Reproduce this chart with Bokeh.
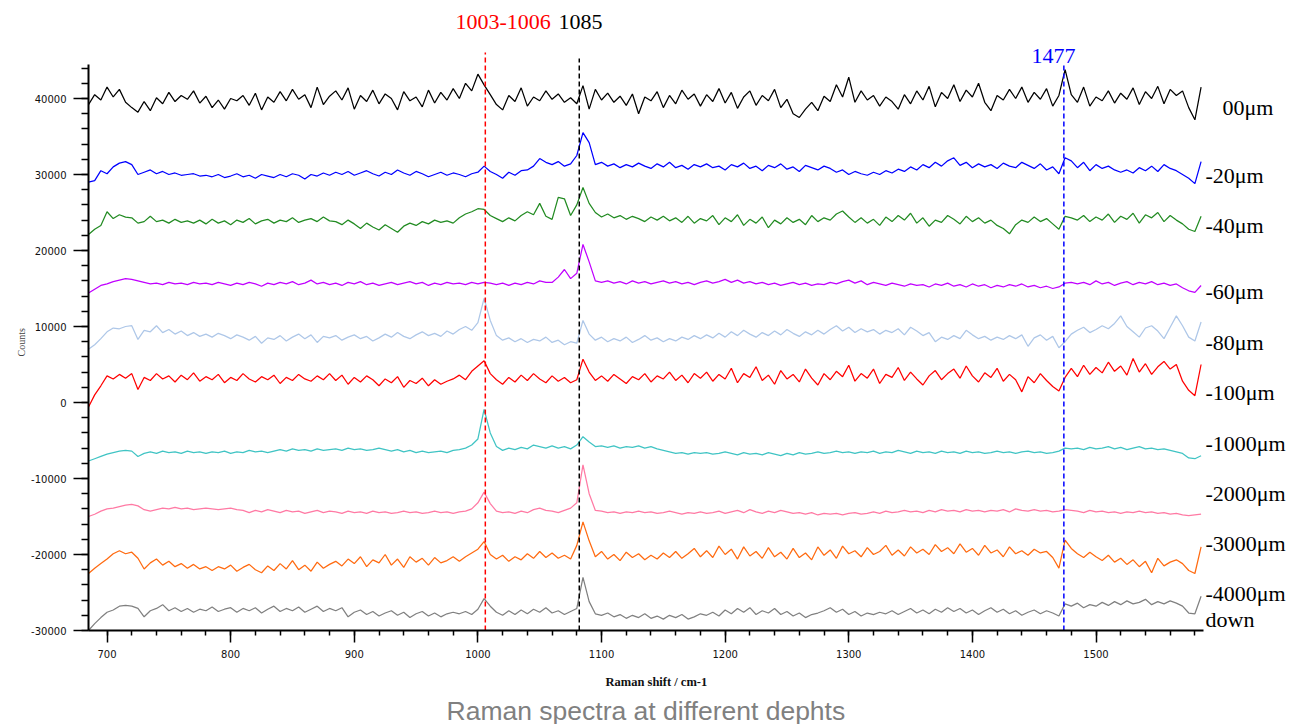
from bokeh.plotting import figure
from bokeh.models import Label, Range1d, SingleIntervalTicker, NumeralTickFormatter, Title
from bokeh.embed import file_html
from bokeh.resources import INLINE

# ---------------- data (in hundreds of counts) ----------------
shift = list(range(685, 1590, 5))  # Raman shift grid, cm-1
UNIT = 100

s00 = [392, 405, 398, 415, 402, 412, 395, 388, 382, 396, 384, 401, 393, 408, 396, 404, 399, 410, 394, 403,
       388, 398, 386, 400, 397, 404, 391, 407, 385, 402, 395, 409, 397, 412, 399, 405, 388, 415, 392, 403,
       410, 398, 414, 386, 404, 396, 411, 393, 406, 400, 385, 409, 397, 402, 389, 411, 394, 408, 398, 413,
       400, 420, 410, 432, 418, 405, 392, 385, 404, 396, 414, 390, 402, 397, 410, 399, 406, 395, 401, 393,
       417, 386, 412, 398, 407, 395, 403, 391, 406, 380, 402, 397, 409, 388, 404, 393, 411, 399, 406, 390,
       405, 396, 413, 394, 408, 387, 402, 410, 391, 404, 397, 412, 388, 399, 380, 375, 386, 395, 384, 403,
       396, 418, 402, 428, 395, 410, 398, 404, 390, 402, 396, 386, 405, 393, 410, 398, 416, 389, 408, 400,
       418, 396, 411, 402, 420, 395, 384, 404, 398, 412, 400, 415, 395, 408, 399, 413, 390, 404, 438, 405,
       395, 415, 390, 402, 397, 410, 394, 407, 399, 414, 392, 409, 400, 416, 393, 412, 404, 410, 388, 372,
       415]
s20 = [290, 292, 305, 301, 310, 315, 317, 313, 300, 303, 306, 301, 304, 300, 302, 299, 300, 301, 298, 299,
       297, 300, 296, 298, 301, 297, 299, 295, 300, 298, 296, 300, 297, 301, 299, 294, 300, 298, 302, 299,
       303, 300, 304, 299, 302, 305, 301, 298, 303, 300, 306, 302, 299, 304, 301, 297, 300, 303, 299, 302,
       300, 297, 301, 303, 311, 304, 300, 295, 303, 299, 305, 306, 311, 321, 316, 313, 317, 311, 314, 325,
       355, 342, 313, 316, 311, 314, 309, 313, 310, 315, 311, 308, 314, 310, 316, 309, 312, 307, 313, 310,
       314, 309, 311, 306, 313, 310, 315, 308, 311, 305, 312, 309, 314, 307, 310, 304, 312, 309, 306, 311,
       308, 303, 306, 300, 304, 301, 299, 303, 300, 305, 302, 307, 304, 310, 306, 313, 309, 316, 311, 318,
       322, 312, 316, 309, 314, 310, 313, 308, 315, 311, 309, 316, 312, 308, 314, 306, 310, 301, 322, 318,
       309, 316, 305, 313, 308, 311, 306, 303, 306, 302, 309, 305, 311, 304, 313, 308, 305, 300, 295, 288,
       317]
s40 = [221, 228, 233, 251, 242, 247, 244, 243, 236, 238, 245, 238, 240, 236, 241, 237, 239, 236, 240, 235,
       241, 236, 239, 234, 240, 237, 242, 235, 239, 241, 236, 240, 238, 243, 237, 240, 242, 238, 244, 239,
       238, 234, 240, 235, 229, 236, 231, 227, 234, 229, 224, 232, 236, 233, 238, 235, 240, 237, 239, 236,
       243, 248, 251, 255, 254, 246, 242, 238, 243, 239, 246, 251, 247, 262, 245, 241, 270, 268, 246, 260,
       283, 262, 250, 244, 248, 243, 246, 241, 245, 242, 238, 244, 240, 245, 239, 243, 237, 245, 236, 242,
       239, 246, 234, 243, 238, 247, 233, 241, 236, 244, 230, 240, 235, 243, 237, 241, 234, 246, 238, 243,
       240, 248, 252, 244, 237, 243, 236, 241, 233, 244, 238, 246, 240, 249, 236, 243, 232, 240, 237, 246,
       241, 235, 245, 238, 243, 236, 240, 233, 229, 222, 234, 240, 237, 244, 238, 242, 235, 228, 245, 243,
       240, 246, 238, 244, 240, 248, 237, 245, 241, 249, 236, 247, 243, 250, 238, 246, 240, 235, 228, 225,
       245]
s60 = [144, 149, 154, 156, 159, 161, 163, 162, 160, 158, 156, 157, 155, 158, 156, 157, 155, 158, 156, 157,
       155, 158, 156, 154, 157, 155, 158, 156, 153, 157, 155, 158, 156, 159, 155, 157, 161, 156, 158, 155,
       157, 154, 158, 156, 159, 155, 157, 154, 156, 158, 155, 157, 159, 156, 158, 154, 157, 155, 158, 156,
       157, 155, 158, 156, 158, 157, 155, 157, 154, 157, 155, 158, 156, 160, 158, 158, 165, 175, 163, 170,
       208, 185, 160, 158, 160, 157, 159, 156, 160, 157, 159, 156, 158, 160, 157, 159, 156, 158, 155, 158,
       160, 157, 159, 162, 158, 161, 157, 159, 156, 158, 155, 157, 154, 156, 158, 155, 157, 154, 156, 155,
       158, 156, 159, 161, 157, 160, 155, 158, 156, 154, 157, 155, 153, 156, 154, 155, 152, 156, 154, 157,
       153, 155, 152, 156, 153, 155, 151, 154, 152, 155, 153, 156, 152, 154, 151, 153, 150, 152, 157, 158,
       156, 158, 155, 160, 156, 158, 154, 157, 159, 155, 158, 156, 159, 155, 157, 154, 156, 151, 147, 145,
       154]
s80 = [70, 76, 84, 93, 98, 97, 100, 101, 83, 95, 93, 101, 92, 96, 90, 94, 88, 92, 87, 90,
       86, 91, 88, 84, 89, 86, 82, 87, 78, 85, 83, 88, 81, 86, 90, 84, 89, 79, 87, 85,
       88, 82, 86, 89, 84, 87, 81, 85, 90, 86, 92, 87, 84, 89, 93, 88, 91, 87, 94, 90,
       96, 100, 95, 105, 137, 108, 88, 82, 85, 80, 84, 79, 83, 81, 86, 79, 82, 76, 80, 78,
       108, 90, 82, 86, 80, 84, 81, 86, 79, 83, 88, 82, 85, 80, 84, 81, 86, 83, 88, 84,
       89, 85, 91, 86, 93, 88, 95, 90, 86, 92, 88, 94, 89, 96, 91, 87, 93, 89, 95, 90,
       96, 101, 94, 99, 92, 97, 93, 96, 90, 95, 92, 97, 89, 99, 94, 88, 92, 80, 86, 83,
       88, 84, 95, 89, 84, 87, 82, 86, 83, 88, 84, 89, 74, 85, 89, 82, 87, 72, 80, 90,
       95, 99, 92, 96, 101, 97, 104, 114, 100, 93, 86, 98, 101, 94, 84, 99, 114, 101, 86, 81,
       106]
s100 = [-6, 10, 22, 35, 31, 37, 32, 38, 17, 33, 29, 38, 31, 35, 27, 36, 30, 39, 28, 34,
        30, 37, 26, 33, 29, 38, 31, 27, 34, 30, 36, 25, 33, 29, 37, 31, 28, 35, 30, 38,
        29, 36, 24, 33, 27, 35, 30, 22, 31, 26, 34, 20, 29, 25, 32, 22, 30, 24, 28, 31,
        36, 30, 41, 48, 55, 38, 30, 24, 33, 27, 36, 29, 38, 31, 26, 35, 28, 33, 26, 30,
        57, 40, 29, 35, 28, 37, 31, 25, 34, 30, 38, 27, 35, 31, 40, 29, 36, 26, 38, 32,
        40, 28, 37, 31, 45, 26, 38, 33, 47, 29, 36, 24, 42, 31, 37, 27, 44, 32, 23, 38,
        30, 41, 34, 49, 28, 38, 32, 44, 25, 37, 33, 46, 29, 40, 31, 23, 35, 42, 30, 38,
        44, 32, 48, 35, 27, 39, 33, 45, 28, 37, 30, 14, 34, 26, 38, 29, 21, 15, 33, 45,
        34, 49, 37, 46, 39, 53, 41, 48, 36, 58, 40, 51, 37, 47, 54, 44, 50, 28, 16, 9,
        50]
s1000 = [-77, -74, -71, -68, -66, -64, -63, -64, -71, -67, -65, -67, -64, -66, -65, -67, -64, -66, -65, -67,
         -65, -66, -64, -67, -65, -66, -63, -65, -64, -66, -64, -62, -64, -61, -63, -62, -64, -61, -63, -62,
         -61, -63, -60, -62, -61, -63, -62, -60, -62, -64, -62, -65, -63, -66, -64, -66, -65, -64, -66, -63,
         -62, -60, -56, -48, -9, -40, -58, -63, -60, -62, -59, -61, -56, -58, -60, -57, -60, -58, -61, -56,
         -45, -52, -58, -57, -59, -57, -60, -58, -59, -57, -60, -58, -61, -63, -65, -67, -66, -68, -66, -67,
         -66, -68, -67, -65, -67, -69, -66, -68, -67, -69, -66, -68, -70, -67, -69, -66, -68, -67, -65, -67,
         -66, -64, -66, -65, -67, -65, -66, -64, -67, -65, -66, -63, -65, -67, -64, -66, -65, -67, -64, -66,
         -65, -67, -64, -66, -65, -67, -66, -64, -66, -65, -67, -65, -64, -66, -65, -67, -66, -64, -60, -61,
         -60, -62, -59, -61, -60, -58, -61, -59, -62, -60, -58, -61, -60, -62, -61, -63, -65, -67, -73, -74,
         -70]
s2000 = [-150, -147, -143, -140, -139, -137, -135, -134, -136, -141, -143, -141, -139, -140, -138, -140, -139, -141, -140, -139,
         -140, -141, -140, -139, -141, -142, -145, -142, -144, -141, -143, -145, -142, -144, -143, -146, -144, -142, -145, -143,
         -144, -146, -143, -145, -144, -146, -143, -145, -144, -146, -145, -143, -145, -144, -146, -145, -143, -145, -144, -146,
         -144, -143, -140, -132, -118, -133, -143, -145, -144, -146, -143, -145, -141, -139, -142, -143, -145, -142, -139, -132,
         -82, -120, -142, -143, -145, -144, -146, -144, -145, -143, -145, -144, -146, -145, -143, -145, -147, -145, -146, -144,
         -146, -145, -143, -146, -144, -142, -145, -141, -144, -146, -143, -145, -142, -144, -146, -145, -147, -145, -148, -146,
         -147, -146, -148, -146, -145, -147, -146, -144, -146, -143, -145, -144, -142, -144, -143, -145, -142, -144, -141, -143,
         -142, -144, -141, -143, -142, -144, -142, -143, -141, -144, -140, -142, -143, -141, -143, -142, -144, -143, -141, -142,
         -143, -145, -142, -144, -143, -145, -144, -146, -144, -145, -143, -145, -144, -146, -145, -147, -146, -148, -149, -148,
         -147]
s3000 = [-225, -218, -212, -206, -199, -195, -199, -197, -205, -219, -211, -206, -214, -209, -216, -212, -218, -213, -219, -216,
         -221, -216, -219, -214, -222, -217, -213, -220, -224, -215, -221, -212, -219, -208, -220, -214, -222, -210, -218, -213,
         -209, -215, -206, -212, -203, -216, -207, -211, -200, -214, -206, -217, -203, -210, -205, -214, -204, -211, -208, -203,
         -209, -203, -198, -193, -183, -200, -206, -201, -209, -203, -207, -199, -205, -196, -204, -198, -205, -201, -206, -188,
         -157, -182, -203, -196, -206, -200, -208, -197, -204, -199, -207, -201, -206, -198, -204, -196, -205, -199, -192, -203,
         -195, -204, -189, -200, -193, -206, -190, -202, -196, -205, -191, -203, -197, -206, -192, -204, -198, -207, -190, -201,
         -194, -205, -189, -199, -195, -203, -191, -200, -196, -188, -201, -194, -202, -190, -198, -193, -200, -187, -196, -191,
         -199, -186, -197, -192, -201, -188, -198, -194, -203, -190, -199, -195, -201, -193, -198, -196, -204, -218, -181, -192,
         -199, -204, -197, -203, -208, -201, -210, -205, -213, -207, -216, -209, -224, -205, -215, -210, -207, -212, -221, -225,
         -190]
s4000 = [-300, -291, -283, -276, -273, -268, -267, -268, -271, -282, -274, -271, -266, -274, -270, -275, -271, -276, -272, -274,
         -269, -275, -272, -270, -276, -271, -274, -270, -277, -272, -268, -275, -271, -274, -269, -276, -272, -268, -275, -271,
         -274, -270, -282, -276, -273, -279, -275, -281, -277, -274, -280, -276, -283, -278, -275, -281, -277, -282, -278, -276,
         -278, -275, -279, -272, -258, -268, -276, -280, -274, -279, -273, -278, -272, -276, -270, -277, -274, -279, -275, -271,
         -230, -262, -278, -280, -277, -282, -279, -284, -280, -283, -278, -284, -281, -285, -280, -283, -279, -285, -282, -278,
         -280, -276, -281, -273, -278, -271, -276, -270, -279, -274, -277, -271, -279, -275, -281, -277, -283, -279, -277, -274,
         -270, -276, -272, -279, -275, -281, -277, -279, -276, -278, -274, -279, -275, -271, -277, -273, -278, -272, -276, -270,
         -275, -271, -277, -273, -279, -274, -270, -276, -272, -278, -274, -280, -276, -273, -278, -274, -277, -281, -265, -268,
         -264, -270, -266, -268, -263, -267, -262, -266, -261, -265, -263, -259, -266, -262, -265, -261, -264, -268, -277, -278,
         -255]

series = [s00, s20, s40, s60, s80, s100, s1000, s2000, s3000, s4000]
depth_labels = ["00\u03bcm", "-20\u03bcm", "-40\u03bcm", "-60\u03bcm", "-80\u03bcm", "-100\u03bcm",
                "-1000\u03bcm", "-2000\u03bcm", "-3000\u03bcm", "-4000\u03bcm", "down"]
colors = ["#000000", "#0000ff", "#228b22", "#c000ff", "#aec7e8", "#ff0000",
          "#40c4c4", "#ff7aa4", "#ff6a10", "#808080"]

marker_shift = [1006, 1082, 1474]
marker_text = ["1003-1006", "1085", "1477"]
marker_colors = ["#ff0000", "#000000", "#0000ff"]

# ---------------- geometry (page pixels -> data) ----------------
W, H = 1304, 724
X0, SX = 685.0, 1.2362      # cm-1 at frame left (px 88), px per cm-1
Y0, SY = -30000.0, 0.0076   # counts at frame bottom (px 630), px per count
LABEL_DY = 8                # rendering offset of Label baselines


def dx(px):
    return X0 + (px - 88) / SX


def dy(py):
    return Y0 + (630 - py) / SY


p = figure(width=W, height=H, output_backend="svg", toolbar_location=None,
           x_range=Range1d(X0, dx(W)), y_range=Range1d(Y0, dy(0)),
           min_border_left=88, min_border_right=0, min_border_top=0, min_border_bottom=H - 630)
p.outline_line_color = None
p.xgrid.visible = False
p.ygrid.visible = False
p.background_fill_color = "white"

for s, c in zip(series, colors):
    p.line(shift, [v * UNIT for v in s], line_color=c, line_width=1.25)

p.segment(x0=marker_shift, x1=marker_shift, y0=[Y0] * 3,
          y1=[dy(52), dy(58), dy(64)], line_color=marker_colors,
          line_dash="5 3", line_width=1.5)

# axes
xa, ya = p.xaxis[0], p.yaxis[0]
xa.ticker = SingleIntervalTicker(interval=100, num_minor_ticks=5)
ya.ticker = SingleIntervalTicker(interval=10000, num_minor_ticks=5)
xa.bounds = (685, 1587)
ya.bounds = (-30000, 44500)
ya.formatter = NumeralTickFormatter(format="0")
for ax in (xa, ya):
    ax.axis_line_color = "black"
    ax.axis_line_width = 2
    ax.major_tick_line_color = "black"
    ax.minor_tick_line_color = "black"
    ax.major_tick_line_width = 1.5
    ax.minor_tick_line_width = 1.5
    ax.major_tick_in = 0
    ax.minor_tick_in = 0
    ax.major_label_text_font = "DejaVu Sans"
    ax.major_label_text_font_size = "10px"
    ax.major_label_text_color = "#111111"
    ax.major_label_standoff = 7
ya.major_tick_out = 15
ya.minor_tick_out = 7
xa.major_tick_out = 12
xa.minor_tick_out = 5

# axis titles and caption (left-aligned titles with pixel offsets from the frame)
p.add_layout(Title(text="Raman shift / cm-1", align="left", offset=605 - 88,
                   text_font="Liberation Serif", text_font_size="12.5px", text_font_style="bold",
                   text_color="#111111", standoff=25), "below")
p.add_layout(Title(text="Raman spectra at different dephts", align="left", offset=446 - 88,
                   text_font="Liberation Sans", text_font_size="26.5px", text_font_style="normal",
                   text_color="#808080", standoff=-16), "below")
p.add_layout(Title(text="Counts", align="left", offset=630 - 356,
                   text_font="Liberation Serif", text_font_size="10px", text_font_style="normal",
                   text_color="#444444", standoff=4), "left")

# depth labels on the right (left x, baseline y in page px)
label_pos = [(1222, 115), (1205, 183), (1205, 233), (1205, 299), (1205, 350), (1205, 400),
             (1205, 451), (1205, 501), (1205, 551), (1205, 601), (1205, 627)]
for txt, (lx, ly) in zip(depth_labels, label_pos):
    p.add_layout(Label(x=dx(lx), y=dy(ly - LABEL_DY), text=txt, text_font="Liberation Serif",
                       text_font_size="22px", text_color="#000000",
                       text_align="left", text_baseline="alphabetic"))

# peak markers text
marker_pos = [(455, 29), (558, 29), (1031, 63)]
for txt, col, (lx, ly) in zip(marker_text, marker_colors, marker_pos):
    p.add_layout(Label(x=dx(lx), y=dy(ly - LABEL_DY), text=txt, text_font="Liberation Serif",
                       text_font_size="22px", text_color=col,
                       text_align="left", text_baseline="alphabetic"))

open("out.html", "w").write(file_html(p, INLINE))
